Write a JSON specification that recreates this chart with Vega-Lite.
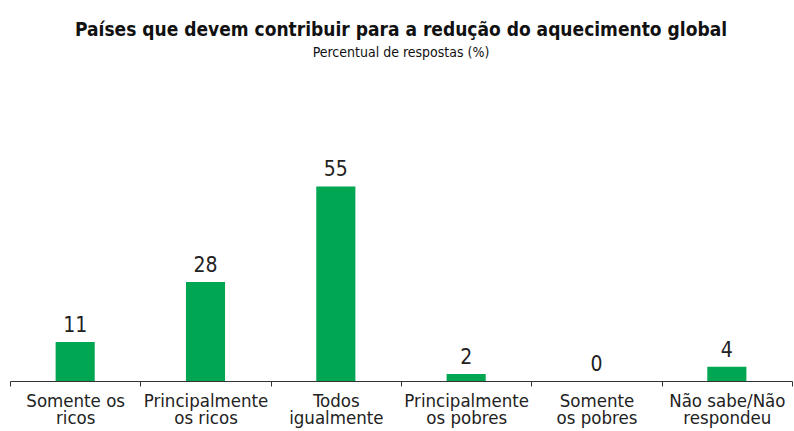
{
  "$schema": "https://vega.github.io/schema/vega-lite/v6.json",
  "width": 782,
  "height": 283,
  "autosize": {"type": "none"},
  "padding": {"left": 10, "top": 98, "right": 2, "bottom": 50},
  "background": "white",
  "title": {
    "text": "Países que devem contribuir para a redução do aquecimento global",
    "subtitle": "Percentual de respostas (%)",
    "anchor": "middle",
    "font": "DejaVu Sans Condensed",
    "fontSize": 19,
    "fontWeight": "bold",
    "color": "#111",
    "subtitleFont": "DejaVu Sans Condensed",
    "subtitleFontSize": 14,
    "subtitleColor": "#111",
    "subtitlePadding": 6,
    "offset": 38
  },
  "data": {
    "values": [
      {"categoria": "Somente os ricos", "percentual": 11},
      {"categoria": "Principalmente os ricos", "percentual": 28},
      {"categoria": "Todos igualmente", "percentual": 55},
      {"categoria": "Principalmente os pobres", "percentual": 2},
      {"categoria": "Somente os pobres", "percentual": 0},
      {"categoria": "Não sabe/Não respondeu", "percentual": 4}
    ]
  },
  "encoding": {
    "x": {
      "field": "categoria",
      "type": "nominal",
      "sort": null,
      "scale": {"paddingInner": 0, "paddingOuter": 0},
      "axis": {
        "title": null,
        "tickBand": "extent",
        "labelAngle": 0,
        "labelFont": "DejaVu Sans Condensed",
        "labelFontSize": 18.5,
        "labelLineHeight": 17,
        "labelColor": "#222",
        "labelPadding": 5,
        "domainColor": "#333",
        "tickColor": "#333",
        "tickSize": 5,
        "labelExpr": "datum.value == 'Somente os ricos' ? ['Somente os','ricos'] : datum.value == 'Principalmente os ricos' ? ['Principalmente','os ricos'] : datum.value == 'Todos igualmente' ? ['Todos','igualmente'] : datum.value == 'Principalmente os pobres' ? ['Principalmente','os pobres'] : datum.value == 'Somente os pobres' ? ['Somente','os pobres'] : datum.value == 'Não sabe/Não respondeu' ? ['Não sabe/Não','respondeu'] : ''"
      }
    },
    "y": {
      "field": "percentual",
      "type": "quantitative",
      "scale": {"domain": [0, 80]},
      "axis": null
    }
  },
  "layer": [
    {
      "mark": {"type": "bar", "color": "#00A651", "width": {"band": 0.3}}
    },
    {
      "mark": {"type": "text", "font": "DejaVu Sans Condensed", "fontSize": 21, "color": "#222", "baseline": "bottom", "dy": -6},
      "encoding": {"text": {"field": "percentual", "type": "quantitative"}}
    }
  ],
  "config": {"view": {"stroke": null}}
}
